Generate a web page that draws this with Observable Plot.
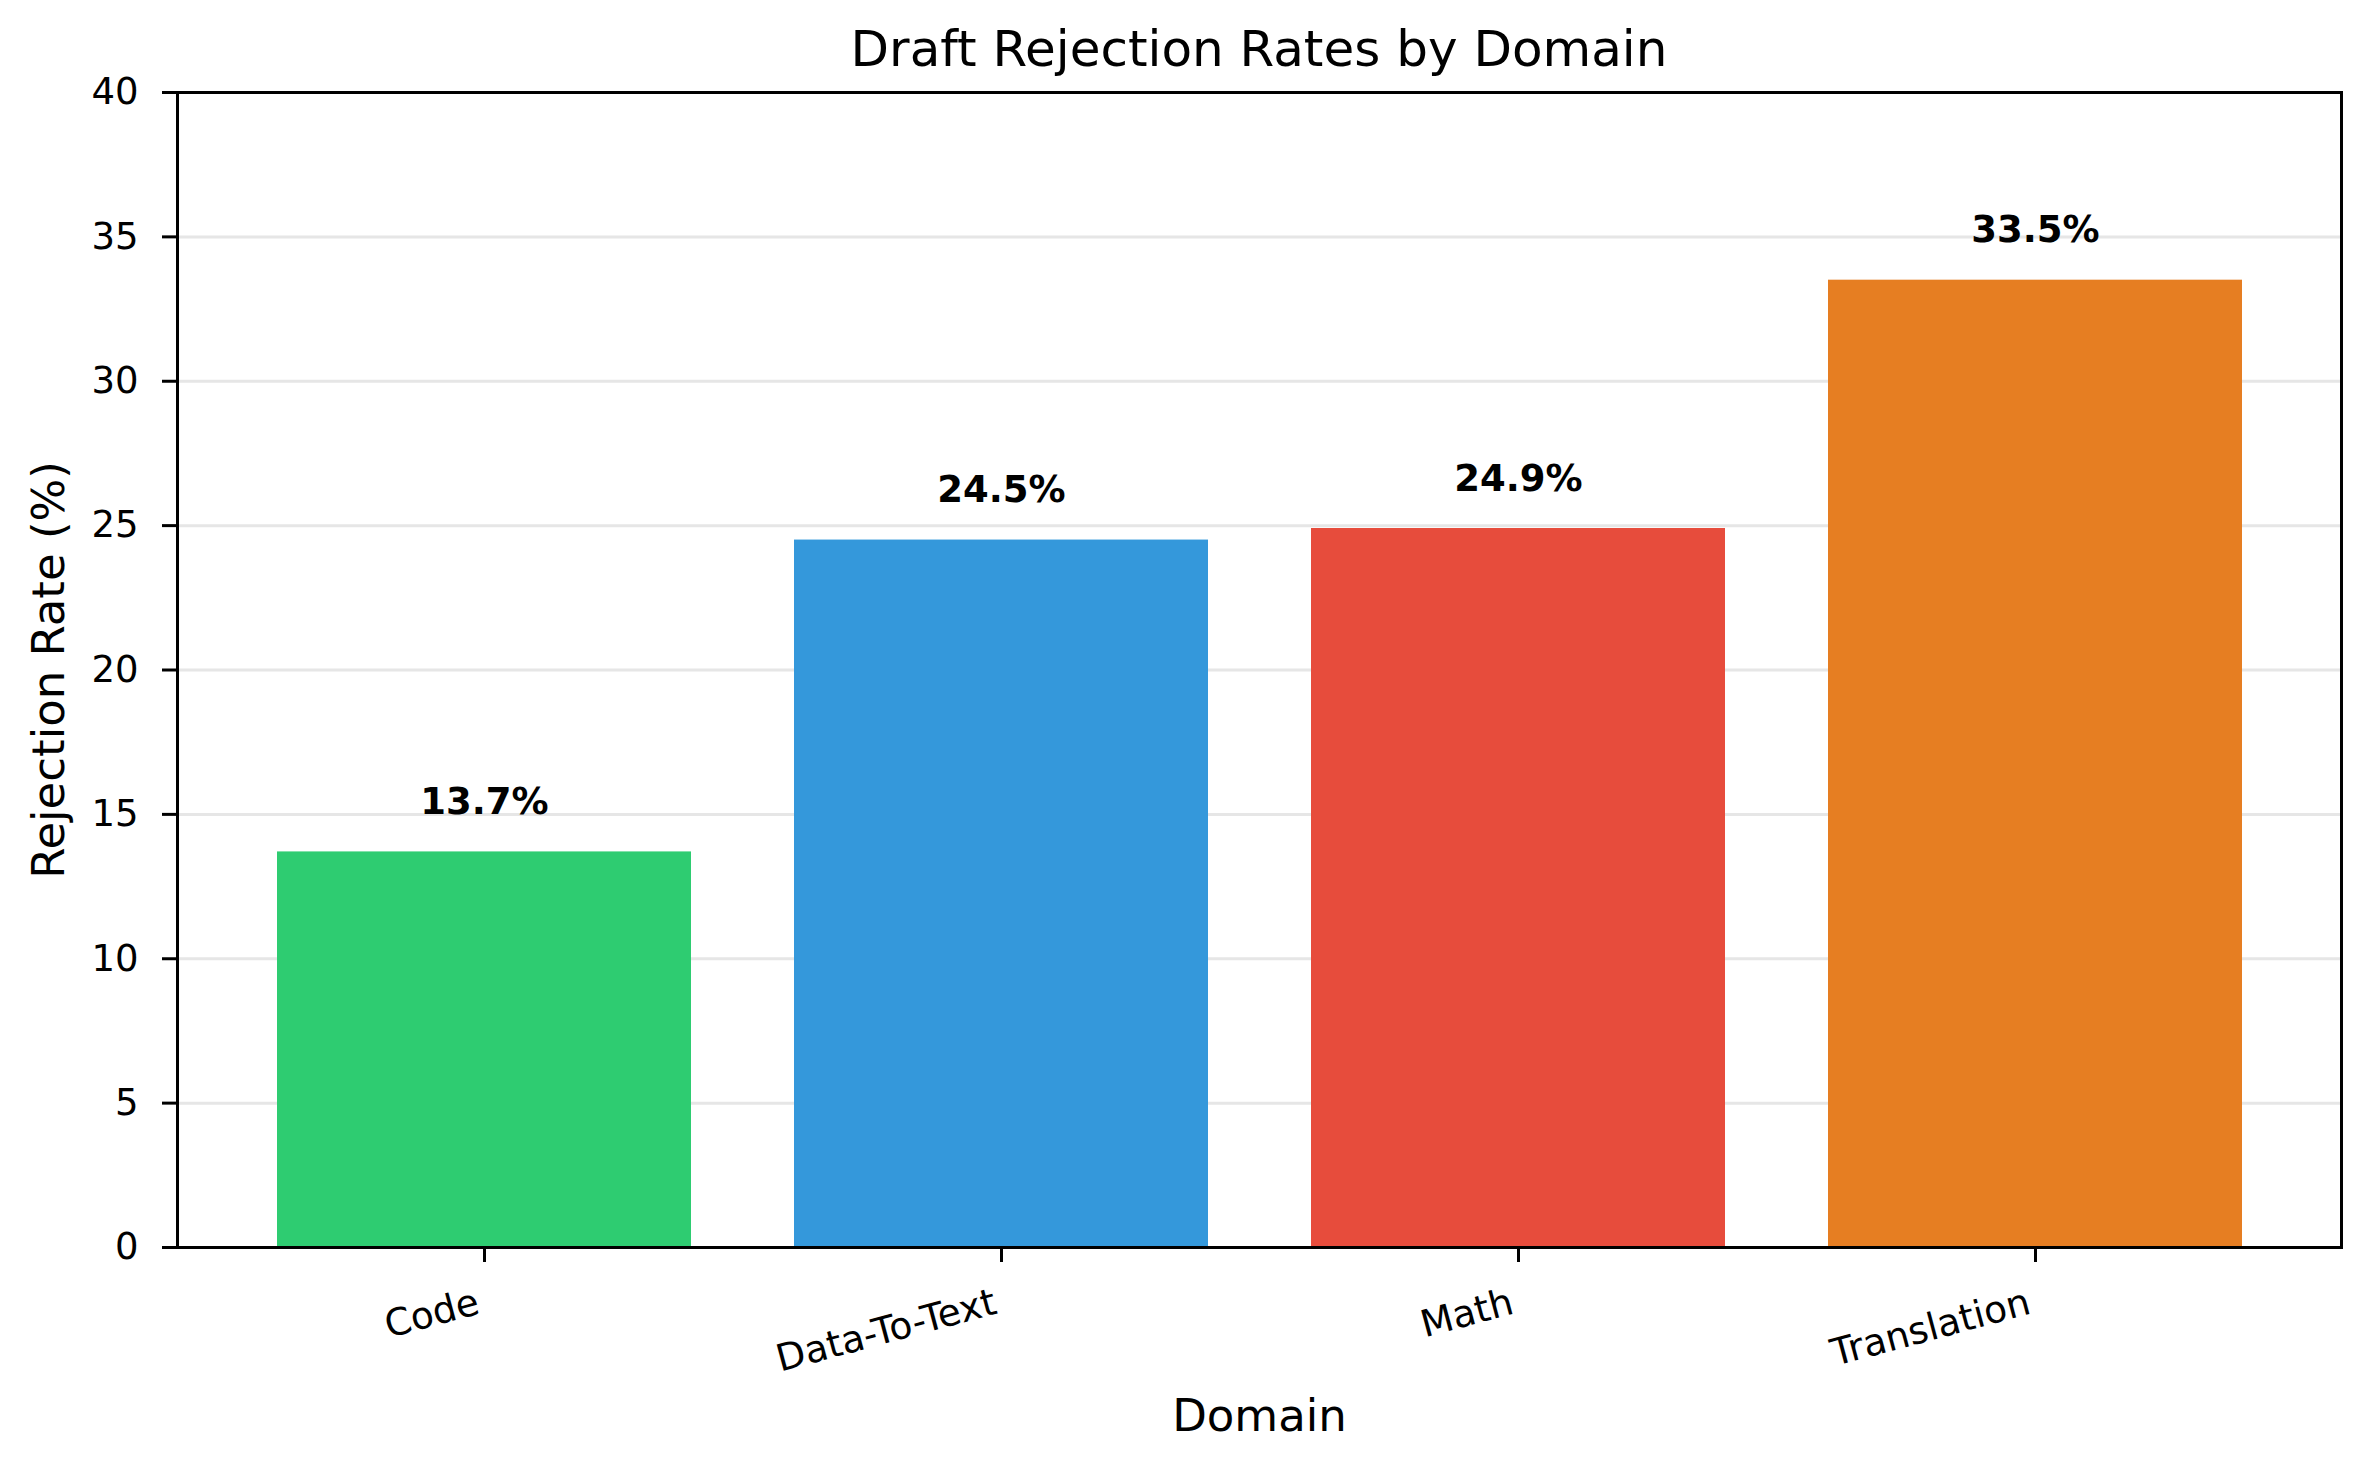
<!DOCTYPE html>
<html>
<head>
<meta charset="utf-8">
<script src="https://cdn.jsdelivr.net/npm/d3@7"></script>
<script src="https://cdn.jsdelivr.net/npm/@observablehq/plot@0.6"></script>
<style>
  html, body { margin: 0; padding: 0; background: #fff; }
  body { width: 2370px; height: 1470px; overflow: hidden; font-family: "DejaVu Sans", sans-serif; }
  #title { height: 58px; line-height: 58px; font-size: 50px; text-align: center; color: #000; padding-left: 148px; position: relative; top: 20px; white-space: nowrap; }
</style>
</head>
<body>
<div id="title">Draft Rejection Rates by Domain</div>
<div id="chart"></div>
<script>
const domains = ["Code", "Data-To-Text", "Math", "Translation"];
const rates = [13.7, 24.5, 24.9, 33.5];
const barColors = ["#2ecc71", "#3498db", "#e74c3c", "#e67e22"];
const yTicks = [0, 5, 10, 15, 20, 25, 30, 35, 40];

const data = domains.map((d, i) => ({domain: d, rate: rates[i]}));

const chart = Plot.plot({
  width: 2370,
  height: 1412,
  marginLeft: 177,
  marginRight: 29,
  marginTop: 34,
  marginBottom: 223,
  style: {fontFamily: "DejaVu Sans, sans-serif", color: "#000", background: "#fff", overflow: "visible"},
  x: {domain: domains, paddingInner: 0.2, paddingOuter: 0.19, label: null},
  y: {domain: [0, 40], label: null},
  color: {domain: domains, range: barColors},
  marks: [
    Plot.gridY(yTicks, {stroke: "#e6e6e6", strokeOpacity: 1, strokeWidth: 3}),
    Plot.barY(data, {x: "domain", y: "rate", fill: "domain"}),
    Plot.text(data, {x: "domain", y: "rate", text: d => d.rate.toFixed(1) + "%", dy: -38, lineAnchor: "bottom", fontSize: 37, fontWeight: "bold", fill: "#000"}),
    Plot.axisY(yTicks, {tickSize: 15, tickPadding: 24, strokeWidth: 3, fontSize: 37, label: null, tickFormat: d => String(d)}),
    Plot.axisX({tickSize: 15, strokeWidth: 3, text: null, label: null}),
    Plot.axisX({tickSize: 0, tickPadding: 40, dx: -10, fontSize: 37.5, tickRotate: -15, textAnchor: "end", lineAnchor: "top", label: null}),
    Plot.frame({stroke: "#000", strokeWidth: 3}),
    Plot.text(["Domain"], {frameAnchor: "bottom", dy: 183, lineAnchor: "bottom", textAnchor: "middle", fontSize: 45, fill: "#000"}),
    Plot.text(["Rejection Rate (%)"], {frameAnchor: "left", rotate: -90, dx: -145, lineAnchor: "top", textAnchor: "middle", fontSize: 45, fill: "#000"})
  ]
});
document.getElementById("chart").appendChild(chart);
</script>
</body>
</html>
